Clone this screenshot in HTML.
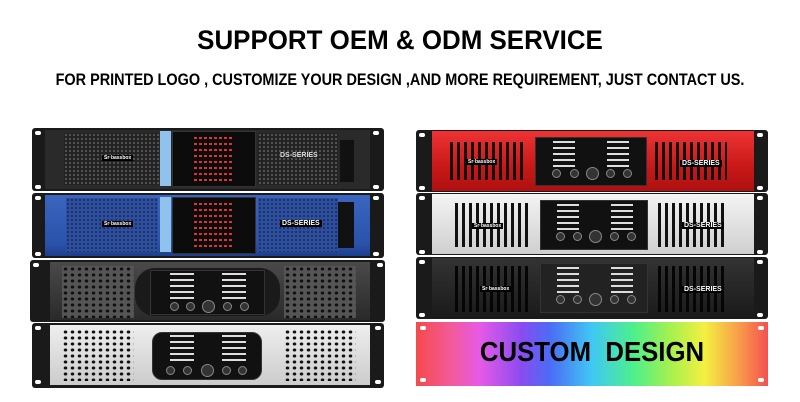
<!DOCTYPE html>
<html><head><meta charset="utf-8"><style>
*{margin:0;padding:0;box-sizing:border-box}
body{width:800px;height:402px;background:#fff;position:relative;overflow:hidden;font-family:"Liberation Sans",sans-serif}
.a{position:absolute}
.t1{left:0;width:800px;top:25px;text-align:center;font-weight:bold;font-size:27px;color:#000;transform:scaleX(0.96)}
.t2{left:-100px;width:1000px;top:70px;text-align:center;font-weight:bold;font-size:17px;color:#000;transform:scaleX(0.85);white-space:nowrap}
.ear{background:#1a1a1a;border-radius:3px}
.hole{position:absolute;width:6px;height:4px;background:#fff;border-radius:2px}
.mesh{background-color:#222;background-image:radial-gradient(#555 1px,transparent 1.3px);background-size:4px 4px}
.panel{background:#111;border:1px solid #333}
.knob{position:absolute;width:9px;height:9px;border-radius:50%;background:#333;border:1px solid #888}
.lbl{position:absolute;color:#fff;font-size:7px;font-weight:bold;background:#000;padding:0 2px}
.slots{background-image:repeating-linear-gradient(90deg,#111 0 3px,transparent 3px 7px)}
.dots{background-image:radial-gradient(#111 1.6px,transparent 2px);background-size:7px 6px}
.leds{position:absolute;background-image:repeating-linear-gradient(#ddd 0 2px,transparent 2px 6px)}
</style></head><body>
<div class="a t1">SUPPORT OEM &amp; ODM SERVICE</div>
<div class="a t2">FOR PRINTED LOGO , CUSTOMIZE YOUR DESIGN ,AND MORE REQUIREMENT, JUST CONTACT US.</div>

<!-- unit1 black -->
<div class="a ear" style="left:32px;top:128px;width:352px;height:63px"></div>
<div class="a" style="left:45px;top:130px;width:325px;height:59px;background:#2a2a2a"></div>
<div class="a mesh" style="left:64px;top:133px;width:95px;height:52px"></div>
<div class="a mesh" style="left:258px;top:133px;width:80px;height:52px"></div>
<div class="a" style="left:160px;top:131px;width:11px;height:55px;background:#8fc3ee"></div>
<div class="a panel" style="left:172px;top:131px;width:84px;height:56px;background:#0c0c0c"></div>
<div class="leds" style="left:192px;top:137px;width:40px;height:44px;background-image:repeating-linear-gradient(90deg,#0c0c0c 0 2px,transparent 2px 5px),repeating-linear-gradient(#d33 0 2px,transparent 2px 6px)"></div>
<div class="a lbl" style="left:102px;top:155px;font-size:5px">Sr·bassbox</div>
<div class="a" style="left:280px;top:152px;color:#ddd;font-size:7px;font-weight:bold">DS-SERIES</div>
<div class="a" style="left:340px;top:140px;width:14px;height:42px;background:#111"></div>
<!-- unit2 blue -->
<div class="a ear" style="left:32px;top:193px;width:352px;height:65px"></div>
<div class="a" style="left:45px;top:195px;width:325px;height:61px;background:linear-gradient(#3a66c0,#2a52aa 80%,#1d3e8c)"></div>
<div class="a mesh" style="left:66px;top:198px;width:92px;height:54px;background-color:#2c4f9e;background-image:radial-gradient(#1b3066 1px,transparent 1.3px)"></div>
<div class="a mesh" style="left:258px;top:198px;width:80px;height:54px;background-color:#2c4f9e;background-image:radial-gradient(#1b3066 1px,transparent 1.3px)"></div>
<div class="a" style="left:160px;top:197px;width:11px;height:55px;background:#8fc3ee"></div>
<div class="a panel" style="left:172px;top:197px;width:84px;height:57px;background:#0c0c0c"></div>
<div class="leds" style="left:192px;top:203px;width:40px;height:44px;background-image:repeating-linear-gradient(90deg,#0c0c0c 0 2px,transparent 2px 5px),repeating-linear-gradient(#d33 0 2px,transparent 2px 6px)"></div>
<div class="a lbl" style="left:102px;top:221px;font-size:5px">Sr·bassbox</div>
<div class="a lbl" style="left:280px;top:220px">DS-SERIES</div>
<div class="a" style="left:338px;top:202px;width:16px;height:46px;background:#111"></div>
<!-- unit3 dark -->
<div class="a ear" style="left:30px;top:260px;width:355px;height:62px"></div>
<div class="a" style="left:50px;top:262px;width:320px;height:58px;background:linear-gradient(#4a4a4a,#2a2a2a)"></div>
<div class="a dots" style="left:62px;top:266px;width:72px;height:52px;background-color:#555"></div>
<div class="a dots" style="left:284px;top:266px;width:72px;height:52px;background-color:#555"></div>
<div class="a" style="left:135px;top:268px;width:145px;height:48px;background:#1a1a1a;border-radius:20px"></div>
<div class="a panel" style="left:150px;top:270px;width:115px;height:45px"></div>
<div class="leds" style="left:170px;top:273px;width:24px;height:28px"></div>
<div class="leds" style="left:222px;top:273px;width:24px;height:28px"></div>
<div class="knob" style="left:170px;top:302px"></div><div class="knob" style="left:186px;top:302px"></div>
<div class="knob" style="left:202px;top:300px;width:13px;height:13px"></div>
<div class="knob" style="left:223px;top:302px"></div><div class="knob" style="left:240px;top:302px"></div>
<!-- unit4 silver -->
<div class="a ear" style="left:32px;top:323px;width:352px;height:65px"></div>
<div class="a" style="left:50px;top:325px;width:320px;height:60px;background:linear-gradient(#eee,#ccc)"></div>
<div class="a dots" style="left:62px;top:329px;width:72px;height:52px"></div>
<div class="a dots" style="left:284px;top:329px;width:72px;height:52px"></div>
<div class="a panel" style="left:152px;top:332px;width:110px;height:48px;border-radius:10px"></div>
<div class="leds" style="left:170px;top:335px;width:24px;height:28px"></div>
<div class="leds" style="left:222px;top:335px;width:24px;height:28px"></div>
<div class="knob" style="left:166px;top:366px"></div><div class="knob" style="left:183px;top:366px"></div>
<div class="knob" style="left:201px;top:364px;width:13px;height:13px"></div>
<div class="knob" style="left:222px;top:366px"></div><div class="knob" style="left:238px;top:366px"></div>

<!-- red -->
<div class="a ear" style="left:416px;top:130px;width:352px;height:62px"></div>
<div class="a" style="left:432px;top:131px;width:322px;height:60px;background:linear-gradient(#e33,#c81818 60%,#b01010)"></div>
<div class="a slots" style="left:450px;top:142px;width:76px;height:38px"></div>
<div class="a slots" style="left:655px;top:142px;width:72px;height:38px"></div>
<div class="a panel" style="left:535px;top:137px;width:112px;height:49px"></div>
<div class="leds" style="left:553px;top:141px;width:22px;height:26px"></div>
<div class="leds" style="left:607px;top:141px;width:22px;height:26px"></div>
<div class="knob" style="left:552px;top:169px"></div><div class="knob" style="left:570px;top:169px"></div>
<div class="knob" style="left:586px;top:167px;width:13px;height:13px"></div>
<div class="knob" style="left:606px;top:169px"></div><div class="knob" style="left:623px;top:169px"></div>
<div class="a lbl" style="left:466px;top:159px;font-size:5px">Sr·bassbox</div>
<div class="a lbl" style="left:680px;top:160px">DS-SERIES</div>
<!-- silver -->
<div class="a ear" style="left:416px;top:193px;width:352px;height:62px"></div>
<div class="a" style="left:432px;top:194px;width:322px;height:60px;background:linear-gradient(#f4f4f4,#cfcfcf)"></div>
<div class="a slots" style="left:455px;top:203px;width:75px;height:44px"></div>
<div class="a slots" style="left:658px;top:203px;width:68px;height:44px"></div>
<div class="a panel" style="left:540px;top:200px;width:108px;height:50px"></div>
<div class="leds" style="left:557px;top:204px;width:22px;height:26px"></div>
<div class="leds" style="left:611px;top:204px;width:22px;height:26px"></div>
<div class="knob" style="left:556px;top:232px"></div><div class="knob" style="left:573px;top:232px"></div>
<div class="knob" style="left:589px;top:230px;width:13px;height:13px"></div>
<div class="knob" style="left:610px;top:232px"></div><div class="knob" style="left:627px;top:232px"></div>
<div class="a lbl" style="left:472px;top:223px;font-size:5px">Sr·bassbox</div>
<div class="a lbl" style="left:682px;top:222px">DS-SERIES</div>
<!-- black -->
<div class="a ear" style="left:416px;top:257px;width:352px;height:62px"></div>
<div class="a" style="left:432px;top:258px;width:322px;height:60px;background:linear-gradient(#333,#1a1a1a)"></div>
<div class="a slots" style="left:455px;top:266px;width:75px;height:46px;background-image:repeating-linear-gradient(90deg,#050505 0 3px,transparent 3px 7px)"></div>
<div class="a slots" style="left:658px;top:266px;width:68px;height:46px;background-image:repeating-linear-gradient(90deg,#050505 0 3px,transparent 3px 7px)"></div>
<div class="a panel" style="left:540px;top:263px;width:108px;height:50px;background:#222"></div>
<div class="leds" style="left:557px;top:267px;width:22px;height:26px"></div>
<div class="leds" style="left:611px;top:267px;width:22px;height:26px"></div>
<div class="knob" style="left:556px;top:295px"></div><div class="knob" style="left:573px;top:295px"></div>
<div class="knob" style="left:589px;top:293px;width:13px;height:13px"></div>
<div class="knob" style="left:610px;top:295px"></div><div class="knob" style="left:627px;top:295px"></div>
<div class="a lbl" style="left:480px;top:286px;font-size:5px">Sr·bassbox</div>
<div class="a lbl" style="left:682px;top:286px">DS-SERIES</div>
<!-- rainbow -->
<div class="a" style="left:416px;top:322px;width:352px;height:64px;background:linear-gradient(90deg,#f44a4a 0%,#f35a9a 10%,#e65ae6 18%,#8a4cf0 30%,#4b6cf6 38%,#40c8f4 50%,#4ef08a 62%,#a4f050 72%,#f4f040 82%,#f89a4a 92%,#f45050 100%)"></div>
<div class="a" style="left:416px;top:336px;width:352px;text-align:center;font-weight:900;font-size:28px;color:#000;transform:scaleX(0.92)">CUSTOM&nbsp; DESIGN</div>
<div class="hole" style="left:420px;top:326px"></div><div class="hole" style="left:758px;top:326px"></div>
<div class="hole" style="left:420px;top:378px"></div><div class="hole" style="left:758px;top:378px"></div>

<!-- ear holes -->
<div class="hole" style="left:35px;top:131px"></div><div class="hole" style="left:373px;top:131px"></div>
<div class="hole" style="left:35px;top:185px"></div><div class="hole" style="left:373px;top:185px"></div>
<div class="hole" style="left:35px;top:196px"></div><div class="hole" style="left:373px;top:196px"></div>
<div class="hole" style="left:35px;top:252px"></div><div class="hole" style="left:373px;top:252px"></div>
<div class="hole" style="left:33px;top:263px"></div><div class="hole" style="left:377px;top:263px"></div>
<div class="hole" style="left:35px;top:326px"></div><div class="hole" style="left:375px;top:326px"></div>
<div class="hole" style="left:35px;top:380px"></div><div class="hole" style="left:375px;top:380px"></div>
<div class="hole" style="left:419px;top:133px"></div><div class="hole" style="left:757px;top:133px"></div>
<div class="hole" style="left:419px;top:186px"></div><div class="hole" style="left:757px;top:186px"></div>
<div class="hole" style="left:419px;top:196px"></div><div class="hole" style="left:757px;top:196px"></div>
<div class="hole" style="left:419px;top:250px"></div><div class="hole" style="left:757px;top:250px"></div>
<div class="hole" style="left:419px;top:260px"></div><div class="hole" style="left:757px;top:260px"></div>
<div class="hole" style="left:419px;top:313px"></div><div class="hole" style="left:757px;top:313px"></div>
</body></html>
